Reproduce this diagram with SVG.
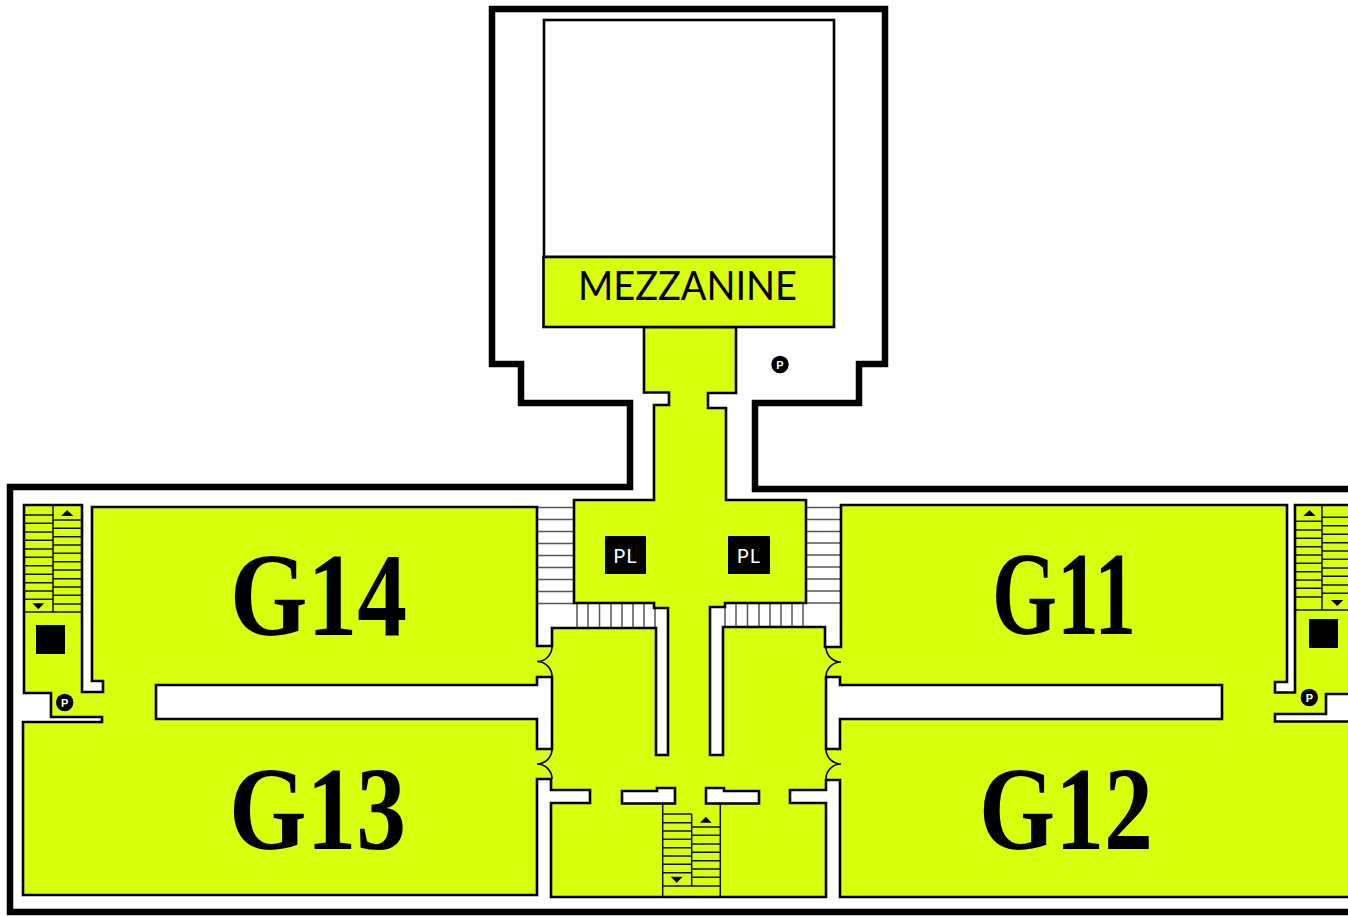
<svg xmlns="http://www.w3.org/2000/svg" width="1348" height="916" viewBox="0 0 1348 916">
<style>
.wall{fill:none;stroke:#000;stroke-width:6.5;stroke-linejoin:miter}
.y{fill:#d9ff0f;stroke:#000;stroke-width:2.6;stroke-linejoin:miter;fill-rule:evenodd}
.w{fill:#fff;stroke:#000;stroke-width:2.6}
.tread{fill:none;stroke:#111;stroke-width:1.5}
.step{fill:none;stroke:#555;stroke-width:1.5}
.arc{fill:none;stroke:#000;stroke-width:1.6}
.k{fill:#000}
.room{font-family:"Liberation Serif",serif;font-weight:700;font-size:119px;fill:#000}
.pl{font-family:"Lato","Liberation Sans",sans-serif;font-size:20px;fill:#fff;text-anchor:middle;letter-spacing:1px}
.p{font-family:"Liberation Sans",sans-serif;font-weight:700;font-size:11px;fill:#fff;text-anchor:middle}
</style>
<rect width="1348" height="916" fill="#fff"/>
<g id="walls"><path class="wall" d="M1348 489H755V403H859V364H885V9H492V364H521V403H630V487H10V912H1348"/></g>
<g id="white-stairs">
<path class="step" d="M537 507.500H574M537 519.500H574M537 531.500H574M537 543.500H574M537 555.500H574M537 567.500H574M537 579.500H574M537 591.500H574M537 603.500H574"/>
<path class="step" d="M806 507.500H841M806 519.500H841M806 531.500H841M806 543H841M806 555H841M806 567H841M806 579H841M806 591H841M806 603H841"/>
<path class="step" d="M577 603V628M588 603V628M599.500 603V628M611 603V628M622 603V628M633 603V628M644 603V628M655 603V628"/>
<path class="step" d="M725 603V628M736 603V628M747.500 603V628M759 603V628M770 603V628M781 603V628M792 603V628M803 603V628"/>
</g>
<g id="floor"><path class="y" d="M644 327H736V393H708V408H726V500H806V603H725V607H710V755H723V627H825V647H841V505H1287V682H1275V692.500H1295V505H1350V694H1326V714H1275V721.500H1350V897H840V780H826V790H790V803H826V897H551V803H590V790H551V779H537V895H23V722H102V717H51V693H24V505H82V692H103V681H92V507H537V646H552V628H656V755H668V608H654V603H574V500H654V405H669V392.500H644Z M552 677V749H537V719H156V685H537V677Z M826 677H840V685H1222V719H840V749H826Z M622 791H657V788H675V803.500H622Z M706 788H724V791H759V803.500H706Z"/></g>
<g id="doors">
<path class="arc" d="M552 646A15 15 0 0 1 537 661.500A15 15 0 0 1 552 677"/>
<path class="arc" d="M552 749A15 15 0 0 1 537 764A15 15 0 0 1 552 779"/>
<path class="arc" d="M826 647A15 15 0 0 0 841 662A15 15 0 0 0 826 677"/>
<path class="arc" d="M826 749A15 15 0 0 0 841 764A15 15 0 0 0 826 780"/>
</g>
<g id="mezzanine">
<rect class="w" x="544" y="20" width="290" height="237"/>
<rect class="y" x="543.500" y="257" width="290.500" height="70"/>
<text x="578" y="300" font-family="Lato,'Liberation Sans',sans-serif" font-size="41" textLength="219" lengthAdjust="spacingAndGlyphs" fill="#000">MEZZANINE</text>
</g>
<g id="stair-west">
<path class="tread" d="M53 505V612M24 612H82M24 515H53M24 523.300H53M24 532H53M24 540.300H53M24 549H53M24 557.300H53M24 565.700H53M24 574.300H53M24 582.700H53M24 591H53M24 599.300H53M53 520H82M53 528.300H82M53 536.700H82M53 545H82M53 553.300H82M53 561.700H82M53 570H82M53 578.700H82M53 587H82M53 595.300H82M53 604H82"/>
<path class="k" d="M61 516H73.300L67.150 510ZM32.300 603.300H44.300L38.300 609.300Z"/>
<rect class="k" x="36" y="625" width="29" height="29"/>
</g>
<g id="stair-east">
<path class="tread" d="M1322 505V610M1295 610H1348M1295 521.300H1322M1295 530H1322M1295 538.300H1322M1295 546.700H1322M1295 555H1322M1295 563.300H1322M1295 571.700H1322M1295 580H1322M1295 588.300H1322M1295 597H1322M1322 517.300H1348M1322 525.700H1348M1322 534.300H1348M1322 542.700H1348M1322 551H1348M1322 559.300H1348M1322 568H1348M1322 576.300H1348M1322 585H1348M1322 593.300H1348"/>
<path class="k" d="M1303.300 516H1315.700L1309.500 510ZM1331 600H1343.300L1337.150 606Z"/>
<rect class="k" x="1309" y="619" width="29" height="29"/>
</g>
<g id="stair-south">
<path class="tread" d="M662.700 803.500V897M720.300 803.500V897M691.700 814V886M662.700 886H720.300M662.700 814H691.700M662.700 822.700H691.700M662.700 831H691.700M662.700 839.300H691.700M662.700 847.700H691.700M662.700 856H691.700M662.700 864.300H691.700M662.700 872.700H691.700M691.700 827H720.300M691.700 835.300H720.300M691.700 844H720.300M691.700 852.300H720.300M691.700 860.700H720.300M691.700 869H720.300M691.700 877.300H720.300"/>
<path class="k" d="M700 822.700H711.700L705.850 816.700ZM670.700 876.700H682.700L676.700 882.700Z"/>
</g>
<g id="pl-west"><rect class="k" x="605" y="536" width="41" height="38"/><text class="pl" x="625.500" y="562.500">PL</text></g>
<g id="pl-east"><rect class="k" x="728" y="536" width="42" height="38"/><text class="pl" x="749" y="562.500">PL</text></g>
<g id="p-mezzanine"><circle class="k" cx="780" cy="364.500" r="8.700"/><text class="p" x="780" y="368.500">P</text></g>
<g id="p-west"><circle class="k" cx="64.700" cy="702.500" r="8.700"/><text class="p" x="64.700" y="706.500">P</text></g>
<g id="p-east"><circle class="k" cx="1309.300" cy="697.500" r="8.700"/><text class="p" x="1309.300" y="701.500">P</text></g>
<g id="labels">
<text class="room" x="230" y="635" textLength="177" lengthAdjust="spacingAndGlyphs">G14</text>
<text class="room" x="229" y="849" textLength="177" lengthAdjust="spacingAndGlyphs">G13</text>
<text class="room" x="992" y="634" textLength="144" lengthAdjust="spacingAndGlyphs">G11</text>
<text class="room" x="979" y="849" textLength="174" lengthAdjust="spacingAndGlyphs">G12</text>
</g>
</svg>
